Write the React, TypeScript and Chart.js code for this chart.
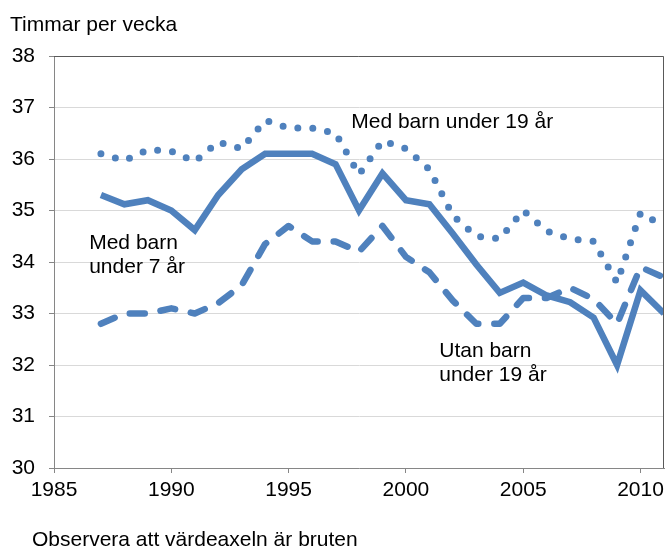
import React, { useEffect, useRef } from "react";
import { Chart, registerables } from "chart.js";

Chart.register(...registerables);

const years = [1987, 1988, 1989, 1990, 1991, 1992, 1993, 1994, 1995, 1996, 1997, 1998, 1999, 2000, 2001, 2002, 2003, 2004, 2005, 2006, 2007, 2008, 2009, 2010, 2011];
const medBarnUnder19 = [36.1, 35.97, 36.18, 36.15, 35.95, 36.33, 36.2, 36.75, 36.6, 36.6, 36.5, 35.7, 36.35, 36.2, 35.8, 34.9, 34.5, 34.45, 35.0, 34.6, 34.45, 34.4, 33.6, 34.95, 34.7];
const medBarnUnder7 = [35.3, 35.12, 35.2, 35.0, 34.62, 35.3, 35.8, 36.1, 36.1, 36.1, 35.9, 35.0, 35.72, 35.2, 35.12, 34.55, 33.95, 33.4, 33.6, 33.35, 33.22, 32.92, 32.0, 33.45, 33.0];
const utanBarnUnder19 = [32.8, 33.0, 33.0, 33.1, 33.0, 33.2, 33.55, 34.35, 34.7, 34.4, 34.4, 34.2, 34.7, 34.1, 33.8, 33.25, 32.8, 32.8, 33.3, 33.3, 33.5, 33.28, 32.8, 33.9, 33.7];

const xTicks = [1985, 1990, 1995, 2000, 2005, 2010];
const yMin = 30;
const yMax = 38;

const yTitle = "Timmar per vecka";
const footnote = "Observera att värdeaxeln är bruten";
const labels = [
  { lines: ["Med barn under 19 år"], x: 1997.67, y: 36.6 },
  { lines: ["Med barn", "under 7 år"], x: 1986.5, y: 34.25 },
  { lines: ["Utan barn", "under 19 år"], x: 2001.42, y: 32.15 },
];

const BLUE = "#4F81BD";
const FONT = "'Liberation Sans', Arial, sans-serif";
const FS = 21;

export default function App() {
  const ref = useRef<HTMLCanvasElement | null>(null);

  useEffect(() => {
    document.body.style.margin = "0";
    const canvas = ref.current;
    if (!canvas) return;

    const toPts = (arr: number[]) => years.map((yr, i) => ({ x: yr, y: arr[i] }));

    const textPlugin = {
      id: "texts",
      afterDatasetsDraw(chart: any) {
        const ctx = chart.ctx;
        const xs = chart.scales.x;
        const ys = chart.scales.y;
        const a = chart.chartArea;
        ctx.save();
        ctx.strokeStyle = "#595959";
        ctx.lineWidth = 1;
        ctx.beginPath();
        ctx.moveTo(a.left, a.top + 0.5);
        ctx.lineTo(a.right - 0.5, a.top + 0.5);
        ctx.lineTo(a.right - 0.5, a.bottom);
        ctx.stroke();
        ctx.fillStyle = "#000";
        ctx.font = `${FS}px ${FONT}`;
        ctx.textAlign = "left";
        ctx.textBaseline = "alphabetic";
        for (const l of labels) {
          const px = xs.getPixelForValue(l.x);
          const py = ys.getPixelForValue(l.y);
          l.lines.forEach((t, i) => ctx.fillText(t, px, py + i * 24));
        }
        ctx.fillText(yTitle, 10, 31);
        ctx.fillText(footnote, 32, 546);
        ctx.restore();
      },
    };

    const chart = new Chart(canvas, {
      type: "line",
      data: {
        datasets: [
          {
            label: "Med barn under 19 år",
            data: toPts(medBarnUnder19),
            borderColor: BLUE,
            borderWidth: 7,
            borderDash: [0, 15],
            borderCapStyle: "round",
            borderJoinStyle: "round",
            pointRadius: 0,
            fill: false,
          },
          {
            label: "Utan barn under 19 år",
            data: toPts(utanBarnUnder19),
            borderColor: BLUE,
            borderWidth: 6.5,
            borderDash: [15, 16],
            borderCapStyle: "round",
            borderJoinStyle: "round",
            pointRadius: 0,
            fill: false,
          },
          {
            label: "Med barn under 7 år",
            data: toPts(medBarnUnder7),
            borderColor: BLUE,
            borderWidth: 6.5,
            borderJoinStyle: "miter",
            pointRadius: 0,
            fill: false,
          },
        ],
      },
      options: {
        responsive: false,
        animation: false,
        devicePixelRatio: 1,
        layout: { padding: { left: 0, top: 56, right: 2, bottom: 0 } },
        plugins: { legend: { display: false }, tooltip: { enabled: false } },
        scales: {
          x: {
            type: "linear",
            min: 1985,
            max: 2011,
            afterBuildTicks: (scale: any) => {
              scale.ticks = xTicks.map((v) => ({ value: v }));
            },
            afterFit: (scale: any) => {
              scale.height = 79;
              scale.paddingLeft = 0;
              scale.paddingRight = 0;
            },
            ticks: {
              color: "#000",
              font: { family: FONT, size: FS },
              padding: 5,
              maxRotation: 0,
              autoSkip: false,
              callback: (v: any) => String(v),
            },
            grid: {
              drawOnChartArea: false,
              drawTicks: true,
              tickLength: 5,
              tickColor: "#868686",
            },
            border: { display: true, color: "#868686", width: 1 },
          },
          y: {
            min: yMin,
            max: yMax,
            afterFit: (scale: any) => {
              scale.width = 54;
              scale.paddingTop = 0;
              scale.paddingBottom = 0;
            },
            ticks: {
              stepSize: 1,
              color: "#000",
              font: { family: FONT, size: FS },
              padding: 14,
            },
            grid: {
              color: "#d9d9d9",
              lineWidth: 1,
              drawTicks: true,
              tickLength: 5,
              tickColor: "#868686",
            },
            border: { display: true, color: "#868686", width: 1 },
          },
        },
      },
      plugins: [textPlugin],
    } as any);

    return () => chart.destroy();
  }, []);

  return (
    <div style={{ width: 666, height: 547 }}>
      <canvas ref={ref} width={666} height={547} style={{ display: "block" }} />
    </div>
  );
}
